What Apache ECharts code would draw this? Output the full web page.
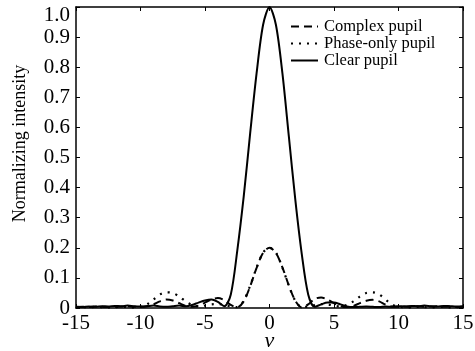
<!DOCTYPE html>
<html>
<head>
<meta charset="utf-8">
<script src="https://cdn.jsdelivr.net/npm/echarts@6/dist/echarts.min.js"></script>
<style>html,body{margin:0;padding:0;background:#fff}#c{width:475px;height:351px}</style>
</head>
<body>
<div id="c"></div>
<script>
const vValues = [-15,-14.5,-14,-13.5,-13,-12.5,-12,-11.5,-11,-10.5,-10,-9.5,-9,-8.5,-8,-7.5,-7,-6.5,-6,-5.5,-5,-4.5,-4,-3.5,-3,-2.5,-2,-1.5,-1,-0.5,0,0.5,1,1.5,2,2.5,3,3.5,4,4.5,5,5.5,6,6.5,7,7.5,8,8.5,9,9.5,10,10.5,11,11.5,12,12.5,13,13.5,14,14.5,15];
const complexPupil = [0.003,0.004,0.003,0.005,0.004,0.003,0.004,0.005,0.006,0.004,0.004,0.006,0.012,0.022,0.028,0.025,0.016,0.007,0.004,0.008,0.018,0.028,0.033,0.026,0.010,0.002,0.022,0.072,0.133,0.183,0.200,0.183,0.135,0.075,0.024,0.002,0.012,0.030,0.035,0.028,0.016,0.006,0.003,0.007,0.016,0.024,0.027,0.022,0.011,0.005,0.004,0.005,0.004,0.006,0.004,0.005,0.006,0.004,0.005,0.003,0.004];
const phaseOnlyPupil = [0.002,0.003,0.002,0.004,0.003,0.002,0.003,0.004,0.003,0.002,0.004,0.012,0.028,0.045,0.052,0.050,0.038,0.022,0.010,0.005,0.008,0.012,0.013,0.010,0.005,0.003,0.024,0.074,0.134,0.184,0.200,0.184,0.134,0.074,0.024,0.003,0.005,0.010,0.013,0.012,0.008,0.005,0.010,0.022,0.038,0.050,0.052,0.045,0.028,0.012,0.004,0.003,0.002,0.004,0.003,0.002,0.003,0.004,0.002,0.003,0.002];
const clearPupil = [0.004,0.003,0.005,0.004,0.006,0.005,0.007,0.006,0.008,0.006,0.005,0.006,0.008,0.005,0.004,0.006,0.008,0.006,0.010,0.018,0.025,0.028,0.020,0.006,0.045,0.190,0.370,0.580,0.780,0.940,1.000,0.940,0.780,0.570,0.360,0.180,0.045,0.004,0.012,0.018,0.018,0.012,0.005,0.003,0.004,0.005,0.004,0.003,0.005,0.004,0.006,0.005,0.007,0.006,0.008,0.006,0.005,0.007,0.006,0.005,0.006];
const seriesNames = ['Complex pupil','Phase-only pupil','Clear pupil'];
const xName = 'v';
const yName = 'Normalizing intensity';

const FONT = '"Liberation Serif", "Times New Roman", serif';
const pair = arr => vValues.map((v, i) => [v, arr[i]]);
const chart = echarts.init(document.getElementById('c'), null, {renderer: 'canvas'});
const axisLine = {show: true, onZero: false, lineStyle: {color: '#000', width: 1.5}};
const axisTick = {show: true, inside: true, length: 4, lineStyle: {color: '#000', width: 1}};
chart.setOption({
  animation: false,
  backgroundColor: '#fff',
  grid: {left: 76, right: 12, top: 7, bottom: 43, containLabel: false, outerBoundsMode: 'none'},
  legend: {
    orient: 'vertical', left: 285, top: 13, itemWidth: 27, itemHeight: 12, itemGap: 0,
    data: seriesNames,
    itemStyle: {opacity: 0},
    textStyle: {fontFamily: FONT, fontSize: 16.5, color: '#000', padding: [0, 0, 0, 1], lineHeight: 16.5}
  },
  xAxis: [
    {type: 'value', min: -15, max: 15, interval: 5, position: 'bottom',
     name: xName, nameLocation: 'middle', nameGap: 22, nameMoveOverlap: false,
     nameTextStyle: {fontFamily: FONT, fontSize: 22, fontStyle: 'italic', color: '#000'},
     axisLine, axisTick, splitLine: {show: false},
     axisLabel: {fontFamily: FONT, fontSize: 21, color: '#000', margin: 5}},
    {type: 'value', min: -15, max: 15, interval: 5, position: 'top',
     axisLine, axisTick, splitLine: {show: false}, axisLabel: {show: false}}
  ],
  yAxis: [
    {type: 'value', min: 0, max: 1, interval: 0.1, position: 'left',
     name: yName, nameLocation: 'middle', nameGap: 47, nameMoveOverlap: false,
     nameTextStyle: {fontFamily: FONT, fontSize: 18, color: '#000', padding: [0, 0, 0, 28]},
     axisLine, axisTick, splitLine: {show: false},
     axisLabel: {fontFamily: FONT, fontSize: 21, color: '#000', margin: 6,
       formatter: v => v === 0 ? '0' : (Math.abs(v - 1) < 1e-9 ? '{t|1.0}' : v.toFixed(1)),
       rich: {t: {fontFamily: FONT, fontSize: 21, color: '#000', padding: [16, 0, 0, 0]}}}},
    {type: 'value', min: 0, max: 1, interval: 0.1, position: 'right',
     axisLine, axisTick, splitLine: {show: false}, axisLabel: {show: false}}
  ],
  series: [
    {name: seriesNames[0], type: 'line', data: pair(complexPupil), symbol: 'none', smooth: 0.3,
     lineStyle: {color: '#000', width: 2, type: [8, 5]}, itemStyle: {color: '#000'}},
    {name: seriesNames[1], type: 'line', data: pair(phaseOnlyPupil), symbol: 'none', smooth: 0.3,
     lineStyle: {color: '#000', width: 2.2, type: [2, 6]}, itemStyle: {color: '#000'}},
    {name: seriesNames[2], type: 'line', data: pair(clearPupil), symbol: 'none', smooth: 0.3,
     lineStyle: {color: '#000', width: 2, type: 'solid'}, itemStyle: {color: '#000'}}
  ]
});
</script>
</body>
</html>
